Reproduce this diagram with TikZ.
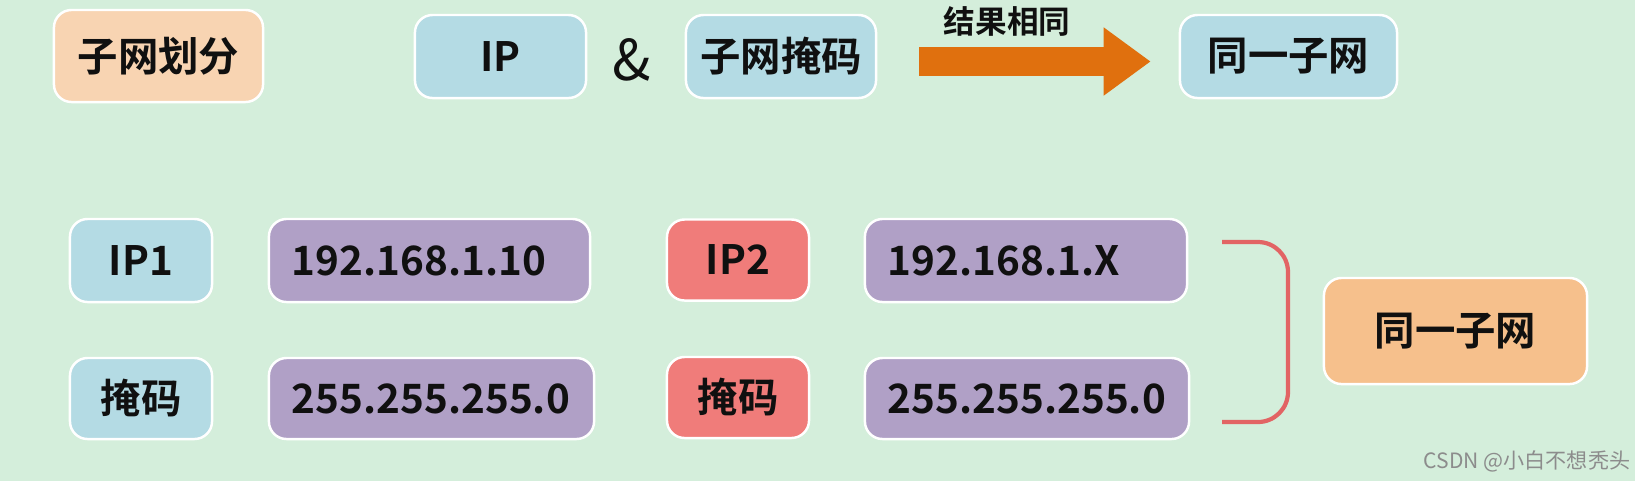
\documentclass[tikz,border=0pt]{standalone}
\usepackage{fontspec}
\setmainfont{Noto Sans CJK SC}[BoldFont={* Bold}]
\usetikzlibrary{arrows.meta}
\definecolor{cbg}{HTML}{D4EEDB}
\definecolor{cpeach}{HTML}{F8D4B2}
\definecolor{corange}{HTML}{F6C08C}
\definecolor{cblue}{HTML}{B4DBE4}
\definecolor{cpurple}{HTML}{B0A0C6}
\definecolor{cred}{HTML}{F07C7A}
\definecolor{carrow}{HTML}{E0700E}
\definecolor{cbrace}{HTML}{E26464}
\definecolor{ctext}{HTML}{101010}
\tikzset{
  every picture/.style={x=0.01cm, y=-0.01cm},
  box/.style={draw=white, fill=#1, line width=0.7pt, rounded corners=5pt, inner sep=0pt,
    text=ctext, font=\fontsize{11.5}{12}\selectfont\bfseries},
  box/.default=cblue,
  valbox/.style={box=cpurple, align=left, inner xsep=0.23cm, text width=#1},
  bigarrow/.style={-{Triangle[length=0.47cm, width=0.65cm]}, draw=carrow, line width=0.29cm},
  brace/.style={draw=cbrace, line width=1.2pt, rounded corners=0.3cm},
  note/.style={font=\fontsize{9}{10}\selectfont\bfseries, text=ctext},
}

\begin{document}
\begin{tikzpicture}
  \fill[cbg] (0,0) rectangle (1635,481);
  \useasboundingbox (0,0) rectangle (1635,481);
  % top row
  \node[box=cpeach, minimum width=2.09cm, minimum height=0.92cm] (split) at (158.5,56) {子网划分};
  \node[box, minimum width=1.71cm, minimum height=0.83cm] (ip) at (500.5,56.5) {IP};
  \node[font=\fontsize{16}{16}\selectfont, text=ctext] (amp) at (632,60) {\&};
  \node[box, minimum width=1.90cm, minimum height=0.83cm] (mask) at (781,56.5) {子网掩码};
  \node[box, minimum width=2.17cm, minimum height=0.83cm] (same) at (1288.5,56.5) {同一子网};
  \draw[bigarrow] ([shift={(42,5)}]mask.east) -- ([shift={(-28,5)}]same.west);
  \node[note] (reslbl) at (1007,21) {结果相同};
  % host 1
  \node[box, minimum width=1.42cm, minimum height=0.83cm] (ip1) at (141,260.5) {IP1};
  \node[valbox=2.75cm, minimum height=0.83cm] (ipaddr1) at (429.5,260.5) {192.168.1.10};
  \node[box, minimum width=1.42cm, minimum height=0.81cm] (mask1) at (141,398.5) {掩码};
  \node[valbox=2.79cm, minimum height=0.81cm] (maskval1) at (431.5,398.5) {255.255.255.0};
  % host 2
  \node[box=cred, minimum width=1.42cm, minimum height=0.81cm] (ip2) at (738,260) {IP2};
  \node[valbox=2.76cm, minimum height=0.83cm] (ipaddr2) at (1026,260.5) {192.168.1.X};
  \node[box=cred, minimum width=1.42cm, minimum height=0.81cm] (mask2) at (738,397.5) {掩码};
  \node[valbox=2.78cm, minimum height=0.81cm] (maskval2) at (1027,398.5) {255.255.255.0};
  % result
  \coordinate (bt) at (1222,242);
  \coordinate (bb) at (1222,422);
  \draw[brace] (bt) -- ++(66,0) -- ++(0,180) -- (bb);
  \node[box=corange, minimum width=2.63cm, minimum height=1.06cm] (samebot) at (1455.5,331) {同一子网};
  \node[font=\fontsize{6}{7}\selectfont, text=black!45] (mark) at (1527,461) {CSDN @小白不想秃头};
\end{tikzpicture}
\end{document}
